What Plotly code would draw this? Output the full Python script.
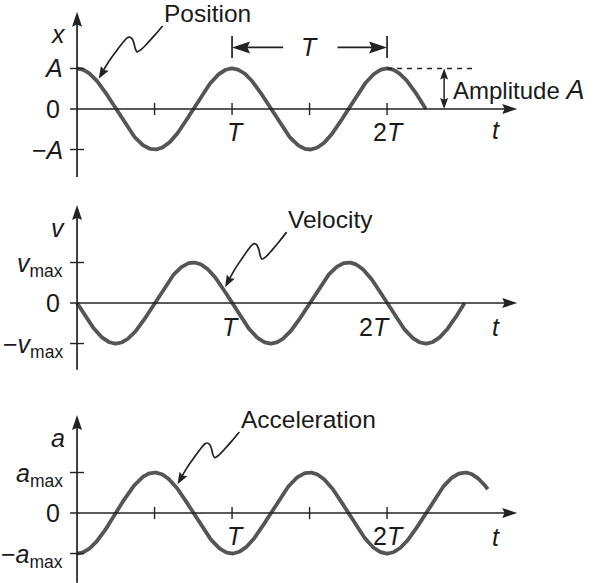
import numpy as np
import plotly.graph_objects as go

# ---- what is drawn ---------------------------------------------------------
quantities = ["Position", "Velocity", "Acceleration"]
axis_symbols = ["x", "v", "a"]
peak_labels = ["<i>A</i>", "<i>v</i><sub>max</sub>", "<i>a</i><sub>max</sub>"]
trough_labels = ["\u2212<i>A</i>", "\u2212<i>v</i><sub>max</sub>", "\u2212<i>a</i><sub>max</sub>"]
# each curve is cos(2*pi*(t/T + phase)), time measured in periods T
phase_shift = [0.0, 0.25, 0.5]
curve_end = [2.25, 2.5, 2.65]
period_ticks = [0.5, 1.0, 1.5, 2.0]
period_labels = {1.0: "<i>T</i>", 2.0: "2<i>T</i>"}
# where each name label sits and where its pointer touches the curve
name_pos = [(0.550, 2.36), (1.350, 2.05), (1.045, 2.30)]
pointer_start = [(0.552, 2.05), (1.352, 1.75), (1.047, 2.00)]
pointer_tip_t = [0.140, 0.955, 0.648]

# ---- layout geometry -------------------------------------------------------
W, H = 594, 583
x_range = [-0.497, 3.335]
y_ranges = [[-2.0, 2.691], [-2.148, 2.790], [-1.728, 3.037]]
domains = [[0.6741, 1.0], [0.3310, 0.6741], [0.0, 0.3310]]
px_per_t = W / (x_range[1] - x_range[0])
px_per_unit = [(d[1] - d[0]) * H / (r[1] - r[0]) for d, r in zip(domains, y_ranges)]

INK = "#222222"
CURVE = "#555555"
FONT = "Liberation Sans, Arial, Helvetica, sans-serif"

fig = go.Figure()
shapes, annotations = [], []


def refs(i):
    s = "" if i == 0 else str(i + 1)
    return "x" + s, "y" + s


def seg(i, x0, y0, x1, y1, width=1.7, dash=None, color=INK):
    xr, yr = refs(i)
    line = dict(color=color, width=width)
    if dash:
        line["dash"] = dash
    shapes.append(dict(type="line", xref=xr, yref=yr, x0=x0, y0=y0, x1=x1, y1=y1,
                       line=line, layer="above"))


def head(i, x, y, dx_px, dy_px, length=15, width=10):
    """Filled arrowhead with its tip at (x, y), pointing along (dx_px, dy_px) on screen (y up)."""
    xr, yr = refs(i)
    n = np.hypot(dx_px, dy_px)
    ux, uy = dx_px / n, dy_px / n
    nx, ny = -uy, ux
    bx, by = -length * ux, -length * uy
    pts = [(0, 0),
           (bx + width / 2 * nx, by + width / 2 * ny),
           (0.85 * bx, 0.85 * by),
           (bx - width / 2 * nx, by - width / 2 * ny)]
    path = "M" + " L".join(f"{a:.2f},{b:.2f}" for a, b in pts) + " Z"
    shapes.append(dict(type="path", xref=xr, yref=yr, xsizemode="pixel", ysizemode="pixel",
                       xanchor=x, yanchor=y, path=path, fillcolor=INK,
                       line=dict(width=0), layer="above"))


def text(i, x, y, s, size=24, xanchor="center", yanchor="middle", italic=False):
    xr, yr = refs(i)
    font = dict(family=FONT, size=size, color="#1a1a1a")
    if italic:
        font["style"] = "italic"
    annotations.append(dict(xref=xr, yref=yr, x=x, y=y, text=s, showarrow=False,
                            xanchor=xanchor, yanchor=yanchor, font=font))


# wavy pointer template: fraction of the way from the label (0) to the curve (1)
wave_u = [0.0, 0.12, 0.24, 0.33, 0.40, 0.43, 0.45, 0.48, 0.52, 0.56, 0.62, 0.72, 0.84, 0.94, 1.0]
wave_v = [0.0, 0.17, 0.33, 0.44, 0.49, 0.42, 0.32, 0.24, 0.21, 0.23, 0.31, 0.47, 0.67, 0.87, 1.0]

y_axis_top = [2.40, 2.42, 2.42]
y_axis_bottom = [-1.68, -1.65, -1.72]
x_axis_end = 2.84
t_label_y = [-0.52, -0.60, -0.59]
period_label_y = [-0.57, -0.59, -0.57]

for i in range(3):
    xr, yr = refs(i)
    t = np.linspace(0, curve_end[i], 500)
    y = np.cos(2 * np.pi * (t + phase_shift[i]))
    fig.add_trace(go.Scatter(x=t, y=y, mode="lines", xaxis=xr, yaxis=yr,
                             line=dict(color=CURVE, width=3.8), hoverinfo="skip",
                             showlegend=False))

    # vertical axis with arrow
    seg(i, 0, y_axis_bottom[i], 0, y_axis_top[i] - 0.2)
    head(i, 0, y_axis_top[i], 0, 1, length=15, width=10)
    # horizontal axis with arrow
    seg(i, -0.045, 0, x_axis_end - 0.05, 0)
    head(i, x_axis_end, 0, 1, 0, length=15, width=10)
    # value ticks
    for v in (1, -1):
        seg(i, -0.045, v, 0.045, v, width=1.4)
    # period ticks
    if i != 1:
        for p in period_ticks:
            seg(i, p, -0.15, p, 0.15, width=1.4)

    # axis labels
    text(i, -0.12, 1.85, axis_symbols[i], size=25, italic=True)
    text(i, 2.70, t_label_y[i], "t", size=25, italic=True)
    text(i, -0.077, 0.95 if i else 1.0, peak_labels[i], xanchor="right", size=25)
    text(i, -0.098, 0.0, "0", xanchor="right", size=25)
    text(i, -0.077, -1.05 if i else -1.0, trough_labels[i], xanchor="right", size=25)
    shift = -0.03 if i == 1 else 0.0
    for p, lab in period_labels.items():
        dx = shift if p == 1.0 else (-0.1 if i == 1 else -0.01)
        text(i, p + dx + 0.02, period_label_y[i], lab, size=25)

    # name label with wavy pointer
    text(i, name_pos[i][0], name_pos[i][1], quantities[i], xanchor="left", size=24.5)
    tt = pointer_tip_t[i]
    ty = np.cos(2 * np.pi * (tt + phase_shift[i])) + 0.11
    sx, sy = pointer_start[i]
    wx = [sx + u * (tt - sx) for u in wave_u]
    wy = [sy + v * (ty - sy) for v in wave_v]
    fig.add_trace(go.Scatter(x=wx[:-1], y=wy[:-1], mode="lines", xaxis=xr, yaxis=yr,
                             line=dict(color=INK, width=1.7, shape="spline", smoothing=0.8),
                             hoverinfo="skip", showlegend=False))
    head(i, tt, ty, (wx[-1] - wx[-3]) * px_per_t, (wy[-1] - wy[-3]) * px_per_unit[i],
         length=12, width=9)

# period marker above the position curve
seg(0, 1.0, 1.26, 1.0, 1.80, width=1.7)
seg(0, 2.0, 1.26, 2.0, 1.80, width=1.7)
seg(0, 1.05, 1.52, 1.33, 1.52, width=1.7)
head(0, 1.0, 1.52, -1, 0, length=18, width=12)
seg(0, 1.68, 1.52, 1.95, 1.52, width=1.7)
head(0, 2.0, 1.52, 1, 0, length=18, width=12)
text(0, 1.50, 1.52, "T", size=25, italic=True)

# amplitude marker
seg(0, 2.0, 1.0, 2.57, 1.0, width=1.5, dash="5px,5px")
seg(0, 2.368, 0.2, 2.368, 0.8, width=1.5)
head(0, 2.368, 1.0, 0, 1, length=11, width=8)
head(0, 2.368, 0.0, 0, -1, length=11, width=8)
text(0, 2.415, 0.47, "Amplitude <i><span style='font-size:27px'>A</span></i>",
     xanchor="left", size=24)

layout = dict(width=W, height=H, margin=dict(l=0, r=0, t=0, b=0),
              paper_bgcolor="white", plot_bgcolor="white", showlegend=False,
              shapes=shapes, annotations=annotations)
for i in range(3):
    xr, yr = refs(i)
    xkey = "xaxis" if i == 0 else f"xaxis{i + 1}"
    ykey = "yaxis" if i == 0 else f"yaxis{i + 1}"
    layout[xkey] = dict(range=x_range, domain=[0, 1], anchor=yr, visible=False, fixedrange=True)
    layout[ykey] = dict(range=y_ranges[i], domain=domains[i], anchor=xr, visible=False,
                        fixedrange=True)
fig.update_layout(**layout)
fig.write_html("out.html")
